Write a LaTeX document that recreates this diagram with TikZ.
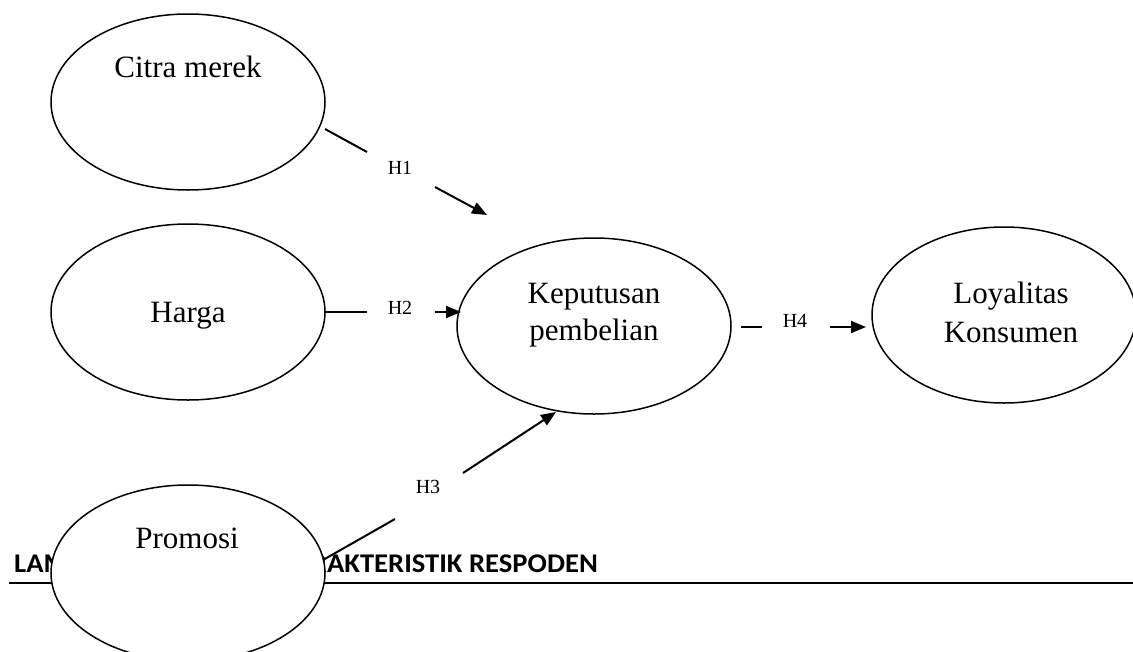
\documentclass[tikz,border=0pt]{standalone}
\usepackage{fontspec}
\setmainfont{Liberation Serif}
\newfontfamily\headfont{Carlito}
\usetikzlibrary{shapes.geometric,arrows.meta}

\begin{document}
\begin{tikzpicture}[x=1pt,y=-1pt,
  construct/.style={ellipse, draw, line width=1.5pt, fill=white,
    minimum width=274pt, minimum height=176pt, inner sep=0pt},
  nametext/.style={font=\fontsize{31}{37}\selectfont, inner sep=0pt, anchor=base},
  hyp/.style={font=\fontsize{20}{20}\selectfont, inner sep=0pt},
  headtext/.style={font=\headfont\bfseries\fontsize{27}{29}\selectfont, inner sep=0pt},
  seg/.style={line width=2pt},
  arrowseg/.style={line width=2pt, -{Triangle[length=15pt,width=12pt]}}
]
\clip (0,0) rectangle (1133,651);
\useasboundingbox (0,0) rectangle (1133,651);

% heading and rule that run behind the lower ellipse
\node[headtext, anchor=base west] (lamp) at (14,572) {\scalebox{1.06}[1]{LAMPIRAN 2}};
\node[headtext, anchor=base east] (kar) at (598,572) {\scalebox{1.06}[1]{KARAKTERISTIK RESPODEN}};
\coordinate (ruleL) at (9,583);
\coordinate (ruleR) at (1133,583);
\draw[line width=2pt] (ruleL) -- (ruleR);

% constructs
\node[construct] (citra) at (188,102) {};
\node[construct] (harga) at (188,312) {};
\node[construct] (kep) at (594,326) {};
\node[construct, minimum width=264pt] (loy) at (1004,315) {};
\node[construct] (promo) at (188,573) {};

\node[nametext] (citraT) at (188,77) {Citra merek};
\node[nametext] (hargaT) at (188,322) {Harga};
\node[nametext] (kepT1) at (594,303) {Keputusan};
\node[nametext] (kepT2) at (594,340) {pembelian};
\node[nametext] (loyT1) at (1011,303) {Loyalitas};
\node[nametext] (loyT2) at (1011,342) {Konsumen};
\node[nametext] (promoT) at (187,548) {Promosi};

% hypothesis paths, each broken around its label
\coordinate (h1a) at (325,129); \coordinate (h1b) at (367,152);
\coordinate (h1c) at (435,187); \coordinate (h1d) at (487,215);
\node[hyp] (H1) at (400,168) {H1};
\draw[seg] (h1a) -- (h1b);
\draw[arrowseg] (h1c) -- (h1d);

\coordinate (h2a) at (325,312); \coordinate (h2b) at (367,312);
\coordinate (h2c) at (435,312); \coordinate (h2d) at (461,312);
\node[hyp] (H2) at (400,308) {H2};
\draw[seg] (h2a) -- (h2b);
\draw[arrowseg] (h2c) -- (h2d);

\coordinate (h3a) at (323,560); \coordinate (h3b) at (395,519);
\coordinate (h3c) at (463,473); \coordinate (h3d) at (556,412);
\node[hyp] (H3) at (428,487) {H3};
\draw[seg] (h3a) -- (h3b);
\draw[arrowseg] (h3c) -- (h3d);

\coordinate (h4a) at (741,327); \coordinate (h4b) at (762,327);
\coordinate (h4c) at (830,327); \coordinate (h4d) at (866,327);
\node[hyp] (H4) at (795,321) {H4};
\draw[seg] (h4a) -- (h4b);
\draw[arrowseg] (h4c) -- (h4d);
\end{tikzpicture}
\end{document}
